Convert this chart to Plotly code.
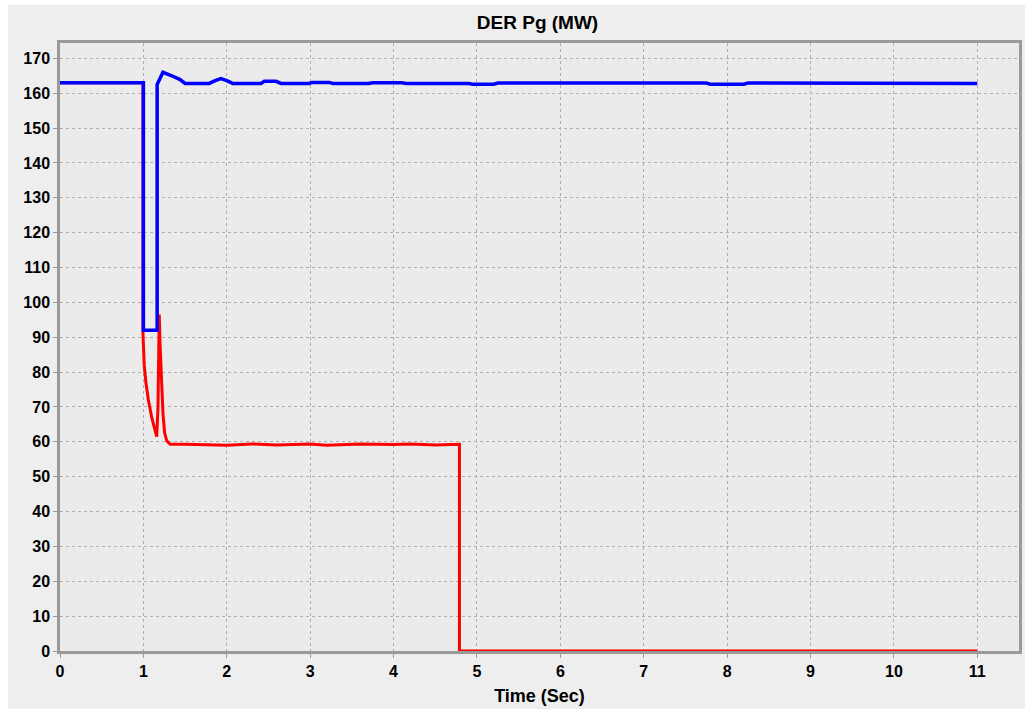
import plotly.graph_objects as go

# ---- data ----
blue_t = [0, 1.0, 1.0, 1.165, 1.165, 1.18, 1.235, 1.34, 1.44, 1.50, 1.79, 1.86, 1.93, 2.0, 2.07,
          2.41, 2.45, 2.59, 2.65, 2.99, 3.02, 3.23, 3.27, 3.70, 3.75, 4.10, 4.15, 4.90, 4.95,
          5.20, 5.25, 7.75, 7.80, 8.20, 8.25, 11.0]
blue_v = [163.0, 163.0, 92.0, 92.0, 162.5, 163.2, 166.0, 165.0, 163.9, 162.8, 162.8, 163.6, 164.2, 163.6, 162.8,
          162.8, 163.4, 163.4, 162.8, 162.8, 163.1, 163.1, 162.8, 162.8, 163.0, 163.0, 162.8, 162.8, 162.6,
          162.6, 162.9, 162.9, 162.6, 162.6, 162.9, 162.8]

red_t = [0, 0.995, 0.995, 1.0, 1.01, 1.03, 1.06, 1.10, 1.14, 1.16, 1.175, 1.19, 1.20, 1.215, 1.235,
         1.255, 1.28, 1.32, 1.5, 2.0, 2.3, 2.6, 3.0, 3.2, 3.6, 4.0, 4.2, 4.5, 4.79, 4.79, 11.0]
red_v = [163.0, 163.0, 91.0, 88.0, 82.0, 77.0, 72.0, 67.0, 63.5, 61.5, 70.0, 96.5, 88.0, 79.0, 68.0,
         62.5, 60.3, 59.3, 59.3, 59.0, 59.4, 59.1, 59.4, 59.0, 59.4, 59.2, 59.4, 59.1, 59.3, 0.0, 0.0]

x_ticks = list(range(0, 12))
y_ticks = list(range(0, 171, 10))

FONT = "Liberation Sans, Arial, sans-serif"

fig = go.Figure()
fig.add_trace(go.Scatter(x=red_t, y=red_v, mode="lines",
                         line=dict(color="#ff0000", width=3), showlegend=False))
fig.add_trace(go.Scatter(x=blue_t, y=blue_v, mode="lines",
                         line=dict(color="#0000ff", width=3.5), showlegend=False))

L, R, T, B = 60, 3, 43, 58
W, H = 1025, 709
pw, ph = W - L - R, H - T - B

def px_x(p):
    return (p - L) / pw

def px_y(p):
    return (H - B - p) / ph

fig.update_layout(
    width=W, height=H,
    margin=dict(l=L, r=R, t=T, b=B),
    paper_bgcolor="white",
    plot_bgcolor="#ebebeb",
    font=dict(family=FONT, color="black"),
    title=dict(text="DER Pg (MW)", x=px_x(539), xref="paper", xanchor="center",
               y=1 - 22 / H, yref="container", yanchor="middle",
               font=dict(size=19, weight="bold", family=FONT)),
    shapes=[
        dict(type="rect", xref="paper", yref="paper", layer="below",
             x0=px_x(8), x1=px_x(1030), y0=px_y(712), y1=px_y(5),
             fillcolor="#eeeeee", line=dict(width=0)),
        dict(type="rect", xref="paper", yref="paper", layer="below",
             x0=0, x1=1, y0=0, y1=1,
             fillcolor="#ebebeb", line=dict(width=0)),
    ],
)
fig.update_xaxes(
    range=[0, 11.5], tickvals=x_ticks, ticktext=[str(v) for v in x_ticks],
    showgrid=True, gridcolor="#b0b0b0", griddash="3px,3px", gridwidth=1,
    zeroline=False, showline=True, mirror=True, linecolor="#9a9a9a", linewidth=2.5,
    ticks="outside", ticklen=4, tickcolor="#9a9a9a",
    tickfont=dict(size=16, weight="bold", family=FONT),
    title=dict(text="Time (Sec)", standoff=11, font=dict(size=18, weight="bold", family=FONT)),
)
fig.update_yaxes(
    range=[0, 174.4], tickvals=y_ticks, ticktext=[str(v) for v in y_ticks],
    showgrid=True, gridcolor="#b0b0b0", griddash="3px,3px", gridwidth=1,
    zeroline=False, showline=True, mirror=True, linecolor="#9a9a9a", linewidth=2.5,
    ticks="outside", ticklen=4, tickcolor="#9a9a9a",
    tickfont=dict(size=16, weight="bold", family=FONT),
)

fig.write_html("out.html")
